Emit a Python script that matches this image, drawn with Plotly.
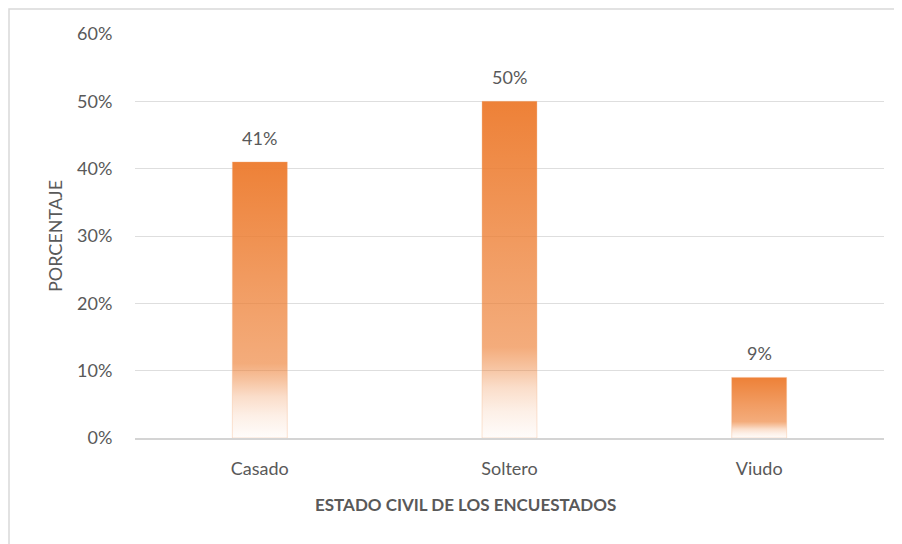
import plotly.graph_objects as go

categories = ["Casado", "Soltero", "Viudo"]
values = [0.41, 0.50, 0.09]
y_ticks = [0, 0.1, 0.2, 0.3, 0.4, 0.5, 0.6]
x_title = "ESTADO CIVIL DE LOS ENCUESTADOS"
y_title = "PORCENTAJE"

FONT = "Lato"
TXT = "#595959"
ORANGE = "237,125,49"
HALF = 0.11

L, R, T, B = 127, 18, 26, 106
W, H = 894, 536
PW, PH = W - L - R, H - T - B

grad = [
    [0.0, f"rgba({ORANGE},0.02)"],
    [0.08, f"rgba({ORANGE},0.12)"],
    [0.15, f"rgba({ORANGE},0.26)"],
    [0.21, f"rgba({ORANGE},0.46)"],
    [0.27, f"rgba({ORANGE},0.64)"],
    [0.55, f"rgba({ORANGE},0.76)"],
    [1.0, f"rgba({ORANGE},0.97)"],
]

fig = go.Figure()
for i, (cat, v) in enumerate(zip(categories, values)):
    fig.add_trace(go.Scatter(
        x=[i - HALF, i + HALF, i + HALF, i - HALF, i - HALF],
        y=[0, 0, v, v, 0],
        mode="lines",
        fill="toself",
        fillgradient=dict(type="vertical", colorscale=grad, start=0, stop=v),
        line=dict(color="rgba(244,177,131,0.35)", width=1),
        name=cat,
        hoverinfo="skip",
        showlegend=False,
    ))
    fig.add_annotation(
        x=i, y=v, xref="x", yref="y", text=f"{round(v*100)}%",
        showarrow=False, yanchor="bottom", yshift=11,
        font=dict(family=FONT, size=18, color=TXT),
    )

fig.add_annotation(
    x=(457 - L) / PW, y=-0.165, xref="paper", yref="paper",
    text=f"<b>{x_title}</b>", showarrow=False,
    xanchor="center", yanchor="middle",
    font=dict(family=FONT, size=17, color=TXT),
)
fig.add_annotation(
    x=(47 - L) / PW, y=0.5, xref="paper", yref="paper",
    text=y_title, showarrow=False, textangle=-90,
    xanchor="center", yanchor="middle",
    font=dict(family=FONT, size=18, color=TXT),
)

# outer chart-area border
fig.add_shape(
    type="rect", xref="paper", yref="paper",
    x0=-(L - 1) / PW, x1=1.1, y0=-0.4, y1=1 + (T - 1) / PH,
    line=dict(color="#D9D9D9", width=1.5), fillcolor="rgba(0,0,0,0)",
    layer="below",
)

fig.update_layout(
    width=W, height=H,
    margin=dict(l=L, r=R, t=T, b=B),
    paper_bgcolor="white", plot_bgcolor="white",
    font=dict(family=FONT, size=18, color=TXT),
    showlegend=False,
)
fig.update_xaxes(
    range=[-0.5, 2.5], tickvals=list(range(len(categories))), ticktext=categories,
    showgrid=False, zeroline=False, showline=True, linecolor="#D4D4D4", linewidth=1.5,
    ticks="outside", ticklen=14, tickcolor="rgba(0,0,0,0)",
    tickfont=dict(family=FONT, size=18, color=TXT), fixedrange=True,
)
fig.update_yaxes(
    range=[0, 0.6], tickvals=y_ticks, tickformat=".0%",
    showgrid=True, gridcolor="#DEDEDE", gridwidth=1, zeroline=False,
    ticks="outside", ticklen=18, tickcolor="rgba(0,0,0,0)",
    tickfont=dict(family=FONT, size=18, color=TXT), fixedrange=True,
)

fig.write_html("out.html")
